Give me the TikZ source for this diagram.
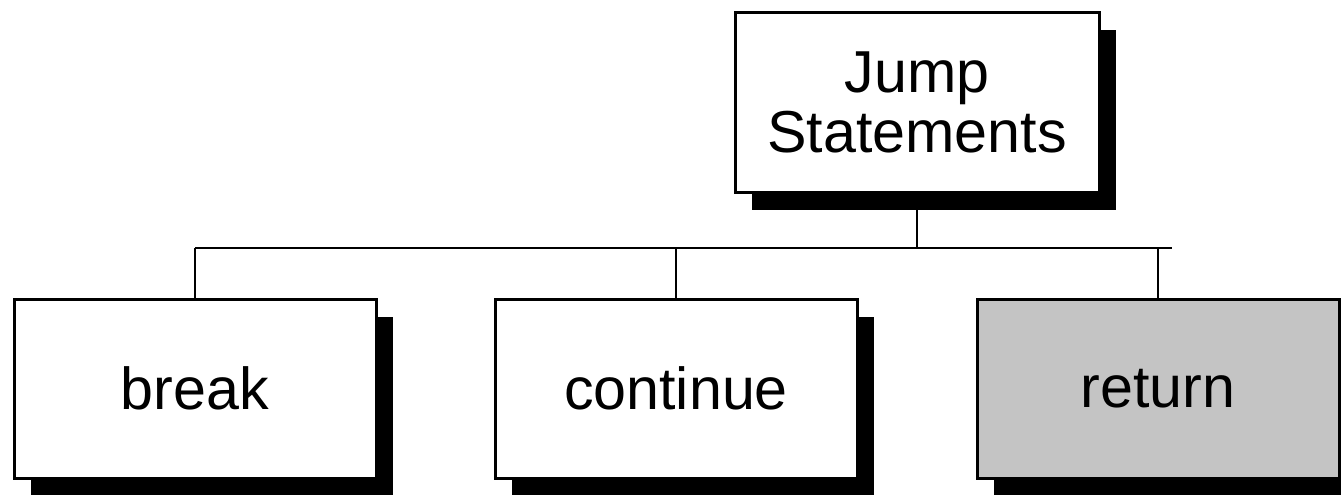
\documentclass[tikz,border=0pt]{standalone}
\usepackage{fontspec}
\setmainfont{Liberation Sans}
\usetikzlibrary{shadows}
\definecolor{retgray}{HTML}{C4C4C4}
\tikzset{
	stmtbox/.style={draw=black, line width=1.5pt, fill=white, inner sep=0pt,
		minimum width=181pt, minimum height=89.5pt, align=center,
		font=\fontsize{29.6}{30}\selectfont,
		drop shadow={fill=black, opacity=1, shadow xshift=8.5pt, shadow yshift=-9pt}},
	busline/.style={line width=1.2pt}
}

\begin{document}
\begin{tikzpicture}[x=0.5pt, y=-0.5pt]
		%%%%% START %%%%%
		\useasboundingbox (0, 0) rectangle (1341, 494);
		
		\node[stmtbox, minimum width=182pt, minimum height=90pt] (jump) at (917, 102) {Jump\\Statements};
		
		\node[stmtbox] (brk) at (195, 388.5) {break};
		\node[stmtbox] (cont) at (676, 388.5) {continue};
		\node[stmtbox, fill=retgray] (ret) at (1158, 388.5) {return};
		
		\coordinate (busL) at (195, 248);
		\coordinate (busR) at (1172, 248);
		\draw[busline] (busL) -- (busR);
		
		\draw[busline] (jump.south) -- (jump.south |- busL);
		\draw[busline] (brk.north) -- (brk.north |- busL);
		\draw[busline] (cont.north) -- (cont.north |- busL);
		\draw[busline] (ret.north) -- (ret.north |- busL);
		
		%%%%% END %%%%%
	\end{tikzpicture}
\end{document}
